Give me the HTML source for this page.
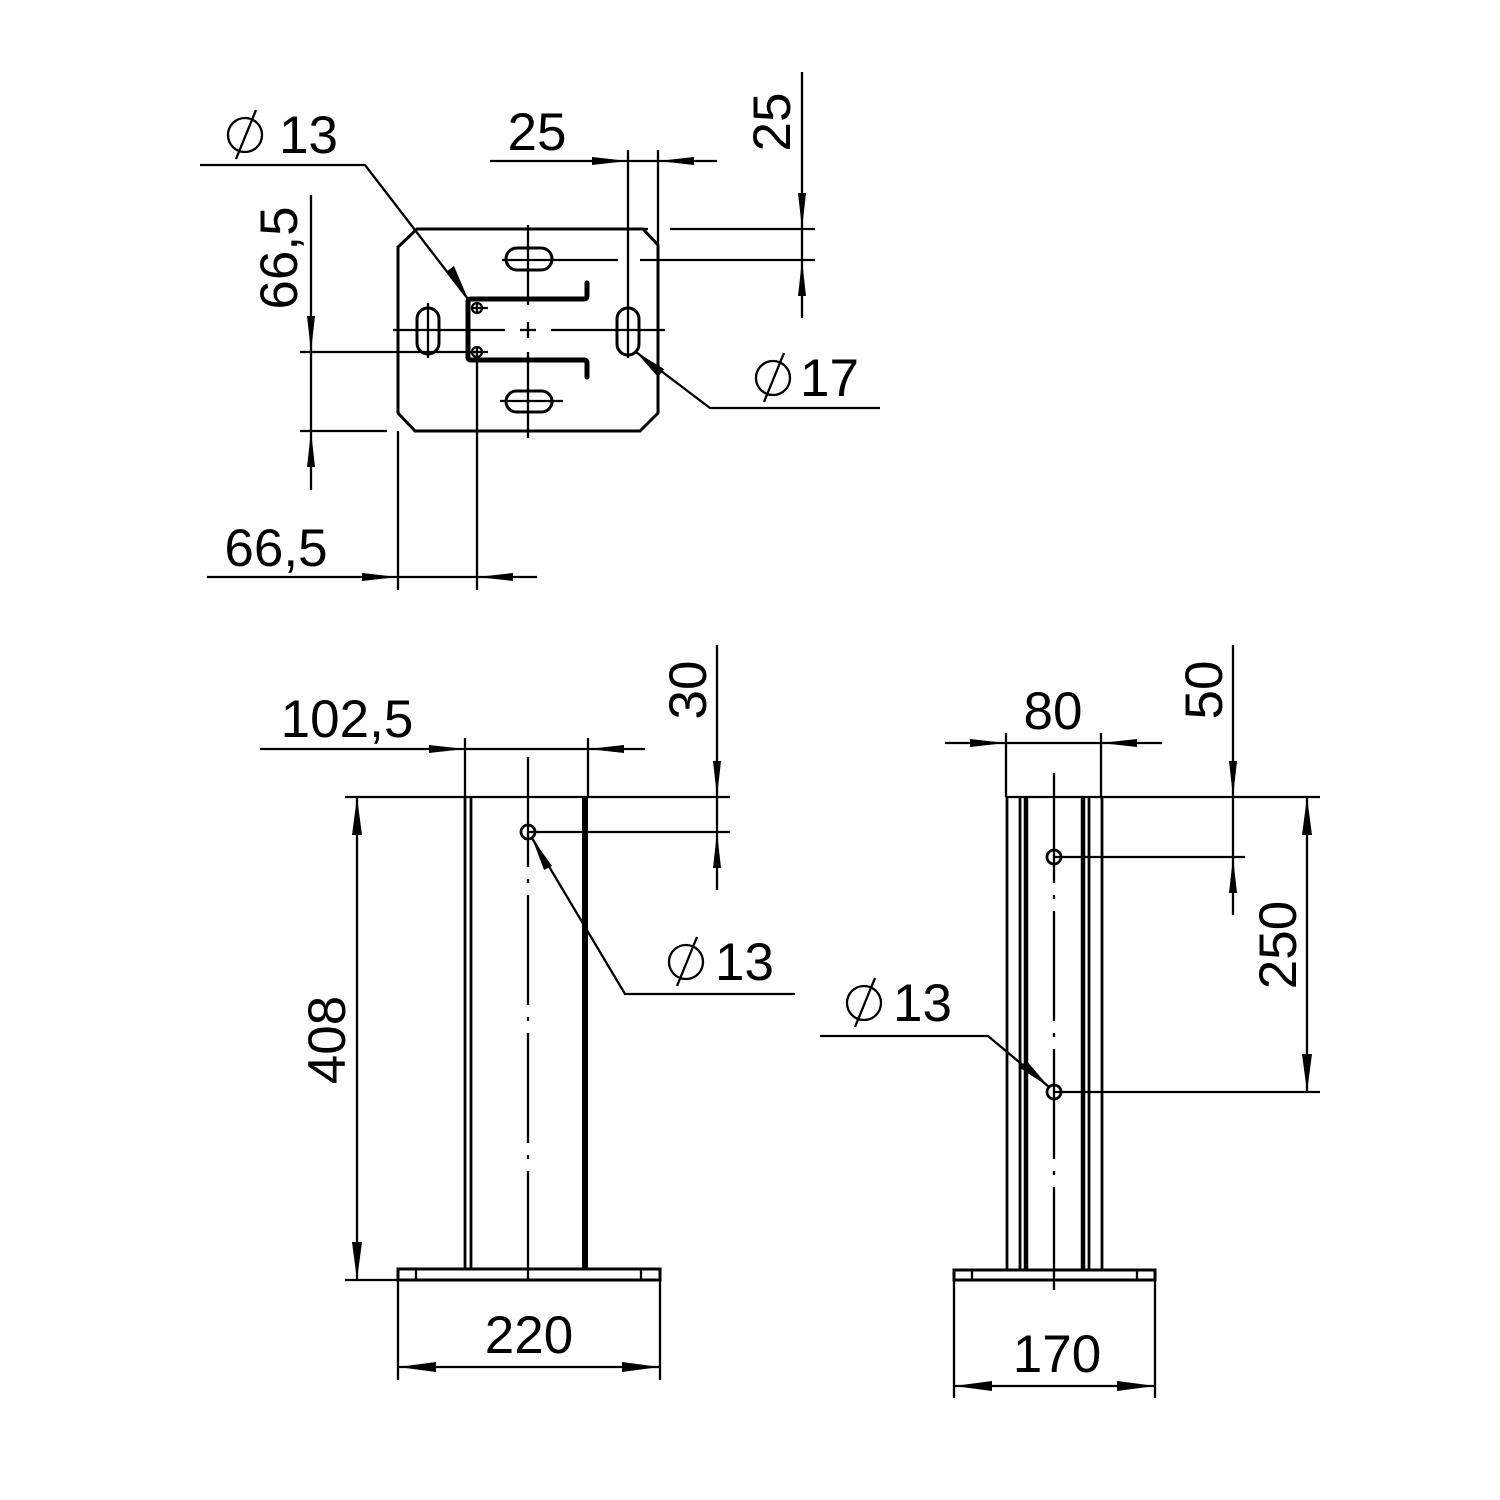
<!DOCTYPE html>
<html><head><meta charset="utf-8"><style>html,body{margin:0;padding:0;background:#fff}svg{display:block}</style></head>
<body>
<svg width="1500" height="1500" viewBox="0 0 1500 1500" xmlns="http://www.w3.org/2000/svg" font-family="Liberation Sans, Arial, sans-serif" font-size="53" fill="none" stroke="#000">
<rect x="0" y="0" width="1500" height="1500" fill="#fff" stroke="none"/>
<g stroke-width="2.3">
<!-- TOP VIEW -->
<polygon points="417,229 643,229 658,245 658,413 640,431 415,431 398,413 398,247" stroke-width="3"/>
<line x1="643" y1="229" x2="648" y2="229"/>
<line x1="393" y1="330" x2="505" y2="330"/>
<line x1="520" y1="330" x2="536" y2="330"/>
<line x1="551" y1="330" x2="665" y2="330"/>
<line x1="528" y1="225" x2="528" y2="305"/>
<line x1="528" y1="322" x2="528" y2="338"/>
<line x1="528" y1="352" x2="528" y2="438"/>
<rect x="506" y="248" width="46" height="22" rx="11" stroke-width="3"/>
<rect x="506" y="391" width="46" height="21" rx="10.5" stroke-width="3"/>
<rect x="417" y="308" width="22" height="46" rx="11" stroke-width="3"/>
<rect x="617" y="308" width="22" height="47" rx="11" stroke-width="3"/>
<line x1="502" y1="260" x2="618" y2="260"/><line x1="640" y1="260" x2="660" y2="260"/>
<line x1="500" y1="401" x2="563" y2="401"/>
<line x1="428" y1="303" x2="428" y2="358"/>
<line x1="628" y1="150" x2="628" y2="358"/>
<line x1="658" y1="150" x2="658" y2="245"/>
<path d="M587,283 L587,296 Q587,299 584,299 L471,299 Q468,299 468,302 L468,357 Q468,360 471,360 L584,360 Q587,360 587,363 L587,377" stroke-width="5" stroke-linecap="round"/>
<circle cx="477" cy="308" r="5"/><line x1="471" y1="308" x2="488" y2="308"/><line x1="477" y1="302" x2="477" y2="314"/>
<circle cx="477" cy="352" r="5"/><line x1="471" y1="352" x2="488" y2="352"/><line x1="477" y1="346" x2="477" y2="358"/>
<line x1="490" y1="161" x2="717" y2="161"/>
<polygon points="628,161 592,157 592,165" fill="#000" stroke="none"/>
<polygon points="658,161 694,157 694,165" fill="#000" stroke="none"/>
<line x1="802" y1="72" x2="802" y2="318"/>
<line x1="670" y1="229" x2="815" y2="229"/>
<line x1="660" y1="260" x2="815" y2="260"/>
<polygon points="802,229 798,193 806,193" fill="#000" stroke="none"/>
<polygon points="802,260 798,296 806,296" fill="#000" stroke="none"/>
<polyline points="200,165 365,165 468,299"/>
<polygon points="468,299 446,272 454,266" fill="#000" stroke="none"/>
<line x1="311" y1="195" x2="311" y2="490"/>
<line x1="300" y1="352" x2="478" y2="352"/>
<line x1="300" y1="431" x2="387" y2="431"/>
<polygon points="311,352 307,316 315,316" fill="#000" stroke="none"/>
<polygon points="311,431 307,467 315,467" fill="#000" stroke="none"/>
<polyline points="636,352 710,408 880,408"/>
<polygon points="636,352 664,369 658,377" fill="#000" stroke="none"/>
<line x1="207" y1="577" x2="537" y2="577"/>
<line x1="398" y1="431" x2="398" y2="590"/>
<line x1="477" y1="358" x2="477" y2="590"/>
<polygon points="398,577 362,573 362,581" fill="#000" stroke="none"/>
<polygon points="477,577 513,573 513,581" fill="#000" stroke="none"/>

<!-- FRONT VIEW -->
<line x1="345" y1="797" x2="730" y2="797"/>
<line x1="465" y1="797" x2="465" y2="1270" stroke-width="2.8"/>
<line x1="471" y1="797" x2="471" y2="1270" stroke-width="2.8"/>
<line x1="585" y1="797" x2="585" y2="1270" stroke-width="6"/>
<line x1="528" y1="757" x2="528" y2="1290" stroke-dasharray="110,12,4,12"/>
<circle cx="528" cy="832" r="7" stroke-width="2.8"/>
<line x1="528" y1="832" x2="730" y2="832"/>
<rect x="398" y="1269" width="262" height="11" stroke-width="3"/>
<line x1="416" y1="1269" x2="416" y2="1280"/><line x1="641" y1="1269" x2="641" y2="1280"/>
<line x1="398" y1="1280" x2="398" y2="1380"/>
<line x1="660" y1="1280" x2="660" y2="1380"/>
<line x1="398" y1="1367" x2="660" y2="1367"/>
<polygon points="398,1367 436,1362 436,1372" fill="#000" stroke="none"/>
<polygon points="660,1367 622,1362 622,1372" fill="#000" stroke="none"/>
<line x1="357" y1="797" x2="357" y2="1280"/>
<line x1="345" y1="1280" x2="398" y2="1280"/>
<polygon points="357,797 352,835 362,835" fill="#000" stroke="none"/>
<polygon points="357,1280 352,1242 362,1242" fill="#000" stroke="none"/>
<line x1="260" y1="749" x2="645" y2="749"/>
<line x1="465" y1="738" x2="465" y2="797"/>
<line x1="588" y1="738" x2="588" y2="797"/>
<polygon points="465,749 429,745 429,753" fill="#000" stroke="none"/>
<polygon points="588,749 624,745 624,753" fill="#000" stroke="none"/>
<line x1="717" y1="645" x2="717" y2="890"/>
<polygon points="717,797 713,761 721,761" fill="#000" stroke="none"/>
<polygon points="717,832 713,868 721,868" fill="#000" stroke="none"/>
<polyline points="532,838 625,994 795,994"/>
<polygon points="532,838 552,866 544,870" fill="#000" stroke="none"/>

<!-- SIDE VIEW -->
<line x1="1006" y1="797" x2="1320" y2="797"/>
<line x1="1007" y1="797" x2="1007" y2="1270" stroke-width="2.8"/>
<line x1="1020" y1="797" x2="1020" y2="1270" stroke-width="2.8"/>
<line x1="1026" y1="797" x2="1026" y2="1270" stroke-width="4.5"/>
<line x1="1083" y1="797" x2="1083" y2="1270" stroke-width="4.5"/>
<line x1="1089" y1="797" x2="1089" y2="1270" stroke-width="2.8"/>
<line x1="1102" y1="797" x2="1102" y2="1270" stroke-width="2.8"/>
<line x1="1054" y1="773" x2="1054" y2="1290" stroke-dasharray="110,12,4,12"/>
<circle cx="1054" cy="857" r="7" stroke-width="2.8"/>
<circle cx="1054" cy="1092" r="7" stroke-width="2.8"/>
<line x1="1054" y1="857" x2="1245" y2="857"/>
<line x1="1054" y1="1092" x2="1320" y2="1092"/>
<rect x="954" y="1270" width="201" height="10" stroke-width="3"/>
<line x1="972" y1="1270" x2="972" y2="1280"/><line x1="1137" y1="1270" x2="1137" y2="1280"/>
<line x1="954" y1="1280" x2="954" y2="1398"/>
<line x1="1155" y1="1280" x2="1155" y2="1398"/>
<line x1="954" y1="1386" x2="1155" y2="1386"/>
<polygon points="954,1386 992,1381 992,1391" fill="#000" stroke="none"/>
<polygon points="1155,1386 1117,1381 1117,1391" fill="#000" stroke="none"/>
<line x1="945" y1="743" x2="1162" y2="743"/>
<line x1="1006" y1="733" x2="1006" y2="797"/>
<line x1="1101" y1="733" x2="1101" y2="797"/>
<polygon points="1006,743 970,739 970,747" fill="#000" stroke="none"/>
<polygon points="1101,743 1137,739 1137,747" fill="#000" stroke="none"/>
<line x1="1233" y1="645" x2="1233" y2="915"/>
<polygon points="1233,797 1229,761 1237,761" fill="#000" stroke="none"/>
<polygon points="1233,857 1229,893 1237,893" fill="#000" stroke="none"/>
<line x1="1307" y1="797" x2="1307" y2="1092"/>
<polygon points="1307,797 1302,835 1312,835" fill="#000" stroke="none"/>
<polygon points="1307,1092 1302,1054 1312,1054" fill="#000" stroke="none"/>
<polyline points="820,1036 988,1036 1049,1087"/>
<polygon points="1049,1087 1020,1068 1026,1060" fill="#000" stroke="none"/>

<circle cx="245" cy="135" r="17"/><line x1="236" y1="159" x2="256" y2="110"/>
<circle cx="773" cy="378" r="17"/><line x1="764" y1="402" x2="784" y2="353"/>
<circle cx="686" cy="962" r="17"/><line x1="677" y1="986" x2="697" y2="937"/>
<circle cx="864" cy="1003" r="17"/><line x1="855" y1="1027" x2="875" y2="978"/>
</g>
<g fill="#000" stroke="none">
<text x="279" y="153">13</text>
<text x="537" y="150" text-anchor="middle">25</text>
<text transform="translate(790,122) rotate(-90)" text-anchor="middle">25</text>
<text transform="translate(297,258) rotate(-90)" text-anchor="middle">66,5</text>
<text x="800" y="396">17</text>
<text x="276" y="566" text-anchor="middle">66,5</text>
<text x="347" y="737" text-anchor="middle">102,5</text>
<text transform="translate(706,690) rotate(-90)" text-anchor="middle">30</text>
<text x="715" y="980">13</text>
<text transform="translate(345,1040) rotate(-90)" text-anchor="middle">408</text>
<text x="529" y="1353" text-anchor="middle">220</text>
<text x="1053" y="729" text-anchor="middle">80</text>
<text transform="translate(1222,690) rotate(-90)" text-anchor="middle">50</text>
<text transform="translate(1296,945) rotate(-90)" text-anchor="middle">250</text>
<text x="893" y="1021">13</text>
<text x="1057" y="1372" text-anchor="middle">170</text>
</g>
</svg>
</body></html>
